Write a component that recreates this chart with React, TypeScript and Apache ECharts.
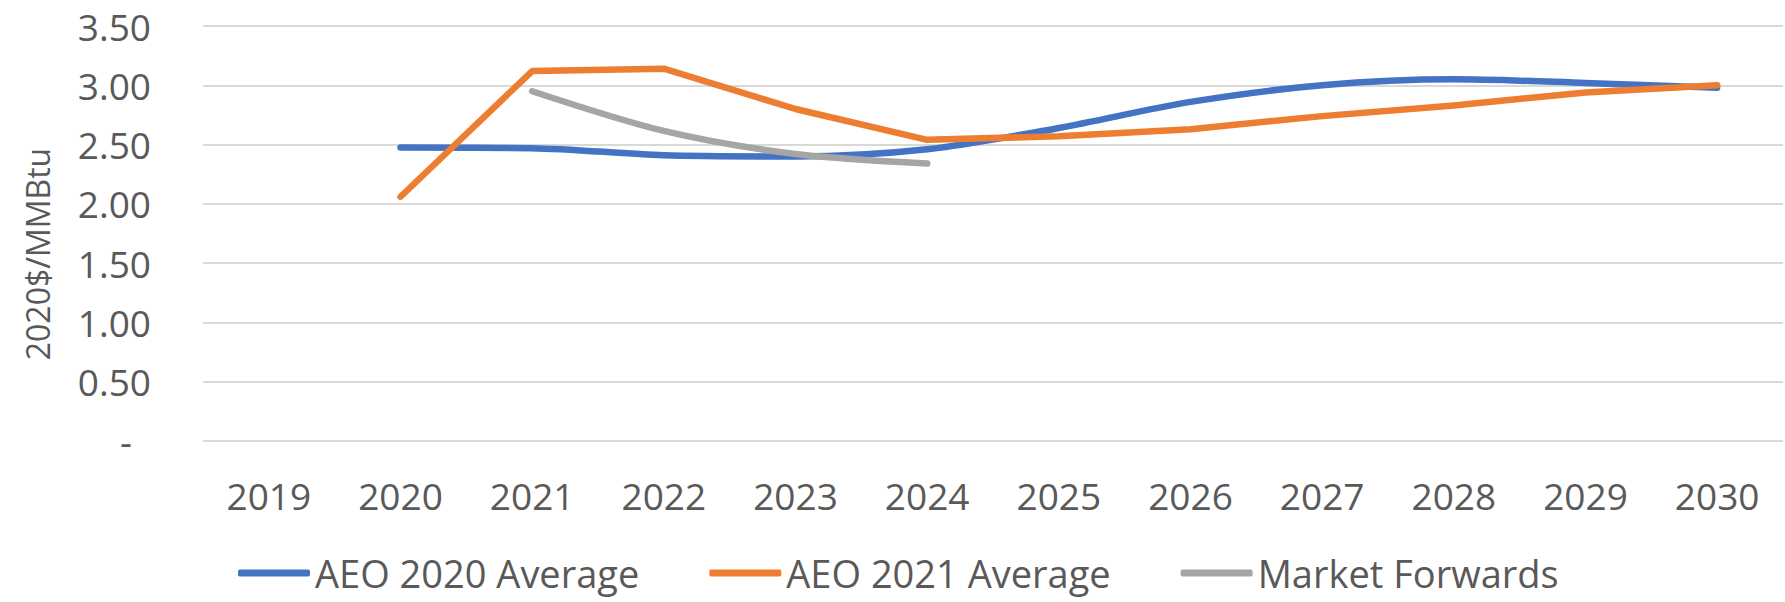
import React, { useEffect, useRef } from 'react';
import * as echarts from 'echarts';

const years = ['2019', '2020', '2021', '2022', '2023', '2024', '2025', '2026', '2027', '2028', '2029', '2030'];
const aeo2020 = [null, 2.475, 2.47, 2.41, 2.40, 2.46, 2.64, 2.86, 3.0, 3.05, 3.02, 2.98];
const aeo2021 = [null, 2.06, 3.12, 3.14, 2.80, 2.54, 2.57, 2.63, 2.74, 2.83, 2.94, 3.0];
const marketForwards = [null, null, 2.95, 2.615, 2.42, 2.34, null, null, null, null, null, null];
const seriesNames = ['AEO 2020 Average', 'AEO 2021 Average', 'Market Forwards'];
const seriesColors = ['#4472C4', '#ED7D31', '#A5A5A5'];
const yMin = 0;
const yMax = 3.5;
const yInterval = 0.5;
const yAxisTitle = '2020$/MMBtu';

const FONT = 'Open Sans';

export default function App() {
  const ref = useRef<HTMLDivElement>(null);
  useEffect(() => {
    document.body.style.margin = '0';
    const chart = echarts.init(ref.current!, null, { renderer: 'svg' });
    const datas = [aeo2020, aeo2021, marketForwards];
    const smooths = [0.3, false, 0.3];
    chart.setOption({
      animation: false,
      backgroundColor: '#ffffff',
      textStyle: { fontFamily: FONT },
      grid: { left: 203, right: 2, top: 26, bottom: 602 - 441 },
      legend: {
        data: seriesNames,
        left: 233,
        top: 549,
        icon: 'roundRect',
        itemWidth: 72,
        itemHeight: 7,
        itemGap: 70,
        textStyle: { fontFamily: FONT, fontSize: 38, lineHeight: 38, color: '#595959' },
      },
      graphic: [
        {
          type: 'text',
          x: 37,
          y: 254,
          rotation: Math.PI / 2,
          style: {
            text: yAxisTitle,
            fontFamily: FONT,
            fontSize: 32,
            fill: '#595959',
            align: 'center',
            verticalAlign: 'middle',
          },
        },
      ],
      xAxis: {
        type: 'category',
        data: years,
        boundaryGap: true,
        axisLine: { show: false },
        axisTick: { show: false },
        axisLabel: { fontFamily: FONT, fontSize: 37, color: '#595959', margin: 36 },
      },
      yAxis: {
        type: 'value',
        min: yMin,
        max: yMax,
        interval: yInterval,
        axisLine: { show: false },
        axisTick: { show: false },
        splitLine: { lineStyle: { color: '#D9D9D9', width: 2 } },
        axisLabel: {
          fontFamily: FONT,
          fontSize: 37,
          color: '#595959',
          margin: 52,
          formatter: (v: number) => (v === 0 ? '{d|-}' : v.toFixed(2)),
          rich: { d: { fontFamily: FONT, fontSize: 37, color: '#595959', padding: [0, 19, 0, 0] } },
        },
      },
      series: seriesNames.map((name, i) => ({
        name,
        type: 'line',
        data: datas[i],
        smooth: smooths[i],
        symbol: 'none',
        connectNulls: false,
        lineStyle: { color: seriesColors[i], width: 6.5, cap: 'round', join: 'round' },
        itemStyle: { color: seriesColors[i] },
      })),
    });
    return () => chart.dispose();
  }, []);
  return <div ref={ref} style={{ width: 1785, height: 602 }} />;
}
